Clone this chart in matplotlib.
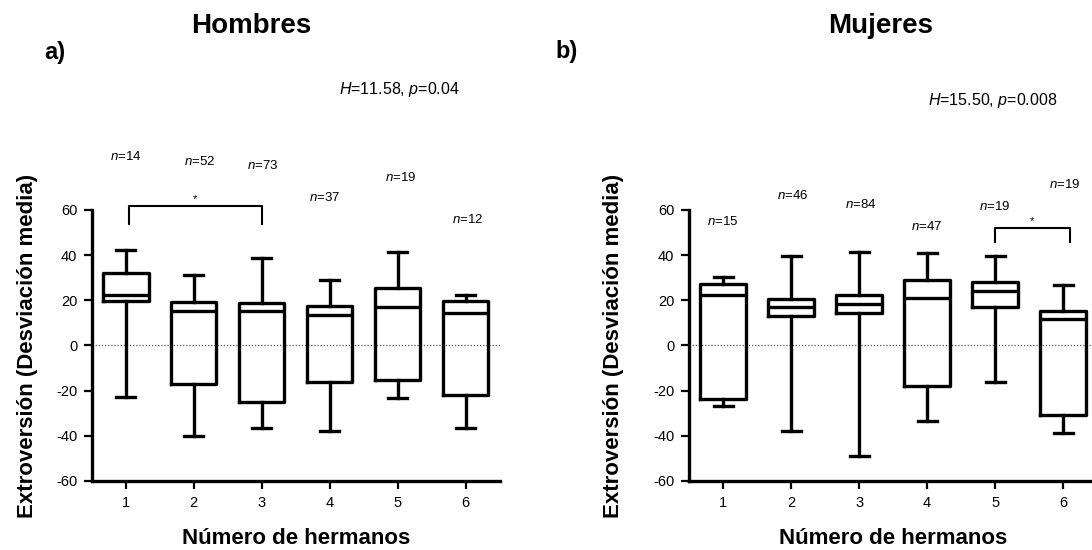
import numpy as np
import matplotlib
matplotlib.use("Agg")
import matplotlib.pyplot as plt

plt.rcParams['font.family'] = ['Liberation Sans', 'DejaVu Sans']
plt.rcParams['mathtext.fontset'] = 'custom'
plt.rcParams['mathtext.it'] = 'Liberation Sans:italic'
plt.rcParams['mathtext.rm'] = 'Liberation Sans'
plt.rcParams['axes.unicode_minus'] = False

groups = [1, 2, 3, 4, 5, 6]
tick_labels = ['1', '2', '3', '4', '5', '6']

# Hombres (box stats)
h_whislo = [-22.7, -40.1, -36.7, -37.8, -23.2, -36.7]
h_q1 = [19.8, -16.9, -25.0, -16.1, -15.1, -22.0]
h_med = [22.2, 15.1, 15.1, 13.3, 17.2, 14.5]
h_q3 = [32.0, 19.2, 18.9, 17.3, 25.4, 19.5]
h_whishi = [42.3, 31.0, 38.8, 28.9, 41.3, 22.5]
h_n = [14, 52, 73, 37, 19, 12]
h_n_x = [1.0, 2.09, 3.01, 3.93, 5.04, 6.03]
h_n_y = [83.9, 81.4, 79.9, 65.4, 74.3, 56.0]
h_stat = r"$H$=11.58, $p$=0.04"
h_bracket = [1.05, 3.0]

# Mujeres
m_whislo = [-26.7, -37.8, -48.8, -33.4, -16.1, -38.7]
m_q1 = [-23.6, 12.9, 14.2, -18.0, 17.2, -30.7]
m_med = [22.5, 17.0, 18.3, 21.1, 24.2, 11.9]
m_q3 = [27.3, 20.5, 22.2, 28.9, 27.9, 15.1]
m_whishi = [30.4, 39.8, 41.6, 40.9, 39.8, 27.0]
m_n = [15, 46, 84, 47, 19, 19]
m_n_x = [1.0, 2.03, 3.02, 4.0, 5.0, 6.02]
m_n_y = [54.8, 66.5, 62.4, 52.6, 61.5, 71.3]
m_stat = r"$H$=15.50, $p$=0.008"
m_bracket = [5.0, 6.1]


def make_stats(lo, q1, med, q3, hi):
    return [{'whislo': a, 'q1': b, 'med': c, 'q3': d, 'whishi': e, 'fliers': []}
            for a, b, c, d, e in zip(lo, q1, med, q3, hi)]


def draw_panel(ax, stats, n, n_x, n_y, bracket, br_top, br_bot, ylab_x):
    lw = 2.4
    props = dict(color='black', linewidth=lw)
    ax.bxp(stats, positions=groups, widths=0.67, capwidths=0.28,
           showfliers=False, manage_ticks=False,
           boxprops=props, whiskerprops=props, capprops=props, medianprops=props)
    ax.axhline(0, color='#555555', linestyle=(0, (1, 1.5)), linewidth=0.9, zorder=0)
    ax.set_xlim(0.5, 6.5)
    ax.set_ylim(-60, 60)
    ax.set_yticks(np.arange(-60, 61, 20))
    ax.set_xticks(groups)
    ax.set_xticklabels(tick_labels)
    ax.spines['top'].set_visible(False)
    ax.spines['right'].set_visible(False)
    ax.spines['left'].set_linewidth(lw)
    ax.spines['bottom'].set_linewidth(lw)
    ax.tick_params(axis='both', length=5.5, width=1.6, labelsize=10.5, pad=5)
    ax.set_xlabel('Número de hermanos', fontsize=16, fontweight='bold')
    ax.set_ylabel('Extroversión (Desviación media)', fontsize=16, fontweight='bold')
    ax.xaxis.set_label_coords(0.5, -0.175)
    ax.yaxis.set_label_coords(ylab_x, 0.5)

    for x, y, k in zip(n_x, n_y, n):
        ax.text(x, y, r"$n$=%d" % k, ha='center', va='center', fontsize=9.5, clip_on=False)

    # significance bracket
    x0, x1 = bracket
    ax.plot([x0, x0, x1, x1], [br_bot, br_top, br_top, br_bot], color='black',
            linewidth=1.5, clip_on=False)
    ax.text((x0 + x1) / 2, br_top + 0.8, '*', ha='center', va='bottom', fontsize=8)


fig = plt.figure(figsize=(10.92, 5.5), dpi=100)
ax1 = fig.add_axes([0.084, 0.1255, 0.3736, 0.4927])
ax2 = fig.add_axes([0.631, 0.1255, 0.3736, 0.4927])

draw_panel(ax1, make_stats(h_whislo, h_q1, h_med, h_q3, h_whishi),
           h_n, h_n_x, h_n_y, h_bracket, 61.8, 53.8, -0.131)
draw_panel(ax2, make_stats(m_whislo, m_q1, m_med, m_q3, m_whishi),
           m_n, m_n_x, m_n_y, m_bracket, 52.0, 46.0, -0.159)

fig.text(0.2305, 0.953, 'Hombres', ha='center', va='center', fontsize=20, fontweight='bold')
fig.text(0.8068, 0.953, 'Mujeres', ha='center', va='center', fontsize=20, fontweight='bold')
fig.text(0.0504, 0.904, 'a)', ha='center', va='center', fontsize=17, fontweight='bold')
fig.text(0.5192, 0.907, 'b)', ha='center', va='center', fontsize=17, fontweight='bold')
fig.text(0.3654, 0.838, h_stat, ha='center', va='center', fontsize=11.5)
fig.text(0.9093, 0.817, m_stat, ha='center', va='center', fontsize=11.5)

fig.savefig('out.png', dpi=100)
